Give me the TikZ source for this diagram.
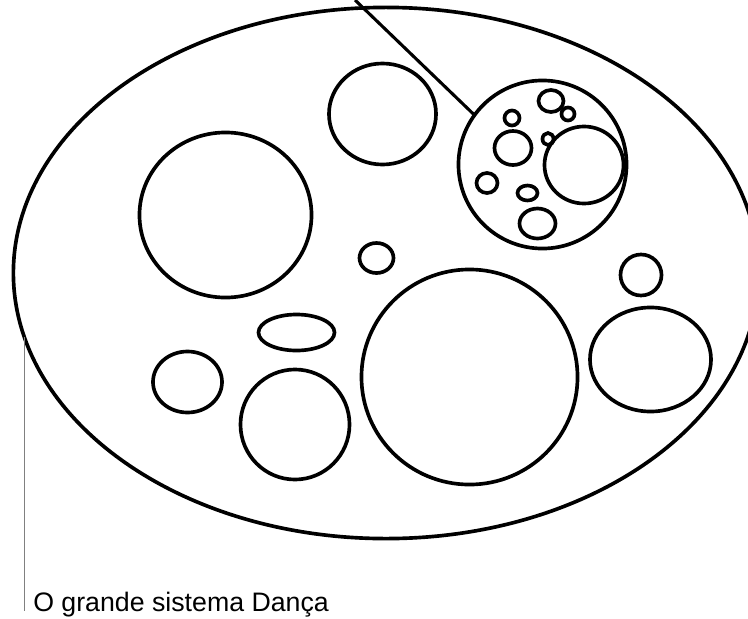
\documentclass[tikz,border=0pt]{standalone}
\usepackage{fontspec}
\setmainfont{Liberation Sans}
\usetikzlibrary{shapes.geometric,positioning}

\begin{document}
\begin{tikzpicture}[
    x=0.025cm, y=-0.025cm,
    blob/.style 2 args={ellipse, draw, line width=2.6pt, inner sep=0pt, outer sep=0pt, minimum width=#1*0.05cm, minimum height=#2*0.05cm},
    link/.style={line width=2.2pt},
    guide/.style={draw=gray, line width=0.6pt},
    caption/.style={font=\fontsize{19}{23}\selectfont, inner sep=0pt, anchor=base west}
]
\useasboundingbox (0,0) rectangle (748,618);
\clip (0,0) rectangle (748,618);

% the whole system
\node[blob={372.5}{265.5}] (sys) at (386,273) {};

% bubbles inside
\node[blob={53.5}{50.5}] (b1) at (382.5,114) {};
\node[blob={86}{82.5}] (b2) at (225.5,215) {};
\node[blob={17}{15}] (b3) at (376.5,258) {};
\node[blob={108}{107.5}] (b4) at (469.5,377) {};
\node[blob={20.5}{20.5}] (b5) at (641,275) {};
\node[blob={60.5}{52}] (b6) at (650.5,359.5) {};
\node[blob={38}{18}] (b7) at (296.5,332.5) {};
\node[blob={54.5}{55}] (b8) at (295,424.5) {};
\node[blob={34.5}{30.5}] (b9) at (187.5,382) {};

% sub-system (top right)
\node[blob={84}{84}] (cluster) at (542.5,164.5) {};
\foreach \n/\x/\y/\rx/\ry in {1/584/165/39.5/38.5, 2/551/101/12.5/11, 3/568/114/6.5/6.5,
    4/512/118/7.5/7.5, 5/513/148/18.5/17, 6/548/139/5.5/6, 7/487/183/10.5/10,
    8/527.5/193/10/7.5, 9/537.5/223.5/18/15}
  \node[blob={\rx}{\ry}] (k\n) at (\x,\y) {};

% connectors
\coordinate (feed) at (355,0);
\draw[link] (feed) -- (cluster.144);

\node[caption] (title) at (33,611) {O grande sistema Dança};
\draw[guide] (sys.190) -- (sys.190 |- title.base);

\end{tikzpicture}
\end{document}
